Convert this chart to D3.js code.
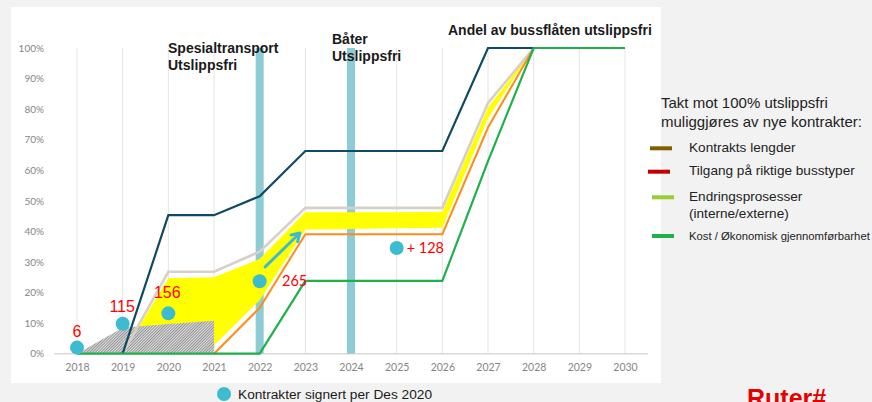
<!DOCTYPE html>
<html>
<head>
<meta charset="utf-8">
<script src="https://cdn.jsdelivr.net/npm/d3@7"></script>
<style>
  body { margin: 0; background: #f2f2f2; }
  svg { display: block; }
</style>
</head>
<body>
<div class="mainContainer"></div>
<script>
// data (percent of bus fleet)
const years = [2018, 2019, 2020, 2021, 2022, 2023, 2024, 2025, 2026, 2027, 2028, 2029, 2030];
const yTicks = [0, 10, 20, 30, 40, 50, 60, 70, 80, 90, 100];

const navy         = [null, 0, 45.3, 45.3, 51.5, 66.3, 66.3, 66.3, 66.3, 100, 100, null, null];
const grey         = [null, 0, 26.8, 26.8, 33.4, 47.7, 47.7, 47.7, 47.7, 82, 100, null, null];
const yellowTop    = [null, 0, 24.7, 25, 31, 46.3, 46.3, 46.3, 46.4, 80.5, 100, null, null];
const yellowBottom = [null, 0, 0, 2.8, 17.5, 40.6, 40.8, 41, 41.2, 77, 100, null, null];
const orange       = [null, null, null, 0, 15, 39.1, 39.1, 39.1, 39.1, 74, 100, null, null];
const green        = [0, 0, 0, 0, 0, 23.8, 23.8, 23.8, 23.8, 63, 100, 100, 100];
const hatched      = [0, 8.5, 9.7, 10.8, null, null, null, null, null, null, null, null, null];

const milestoneYears = [2022, 2024];
const milestoneLabels = [['Spesialtransport', 'Utslippsfri'], ['Båter', 'Utslippsfri']];

const contractYears  = [2018, 2019, 2020, 2022, 2025];
const contractShare  = [2, 9.8, 13.2, 23.7, 34.6];
const contractLabels = ['6', '115', '156', '265', '+ 128'];

const arrowFrom = [2022.12, 28.4];
const arrowTo   = [2022.88, 39.5];

const legendTitle = ['Takt mot 100% utslippsfri', 'muliggjøres av nye kontrakter:'];
const legendItems = [['Kontrakts lengder'], ['Tilgang på riktige busstyper'],
                     ['Endringsprosesser', '(interne/externe)'], ['Kost / Økonomisk gjennomførbarhet']];
const legendColors = ['#7f6000', '#c00000', '#99cc33', '#1fb04c'];

const svg = d3.select('.mainContainer')
    .append('svg')
    .attr('width', 872)
    .attr('height', 402);

const defs = svg.append('defs');
const pat = defs.append('pattern')
    .attr('id', 'hatch')
    .attr('width', 2).attr('height', 2)
    .attr('patternUnits', 'userSpaceOnUse')
    .attr('patternTransform', 'rotate(45)');
pat.append('rect').attr('width', 2).attr('height', 2).attr('fill', '#e2e2e2');
pat.append('line').attr('x1', 0.5).attr('y1', 0).attr('x2', 0.5).attr('y2', 2)
    .attr('stroke', '#909090').attr('stroke-width', 1);

// white chart panel
svg.append('rect')
    .attr('x', 11).attr('y', 7)
    .attr('width', 650).attr('height', 376)
    .attr('fill', '#fff');

const x = d3.scaleLinear().domain([2018, 2030]).range([77, 625]);
const y = d3.scaleLinear().domain([0, 100]).range([353.7, 48]);

const graph = svg.append('g');

// vertical gridlines
graph.selectAll('line.grid')
    .data(years)
    .enter().append('line')
    .attr('class', 'grid')
    .attr('x1', d => x(d)).attr('x2', d => x(d))
    .attr('y1', y(0)).attr('y2', y(100))
    .attr('stroke', '#e4e4e4').attr('stroke-width', 1);

// axes
const xAxisGroup = graph.append('g').attr('transform', `translate(0,${y(0)})`);
xAxisGroup.call(d3.axisBottom(x).tickValues(years).tickFormat(d3.format('d')).tickSize(0).tickPadding(10));
xAxisGroup.select('.domain').remove();
xAxisGroup.selectAll('text')
    .attr('fill', '#858585')
    .style('font-family', 'Lato')
    .style('font-size', '10.5px');

graph.append('line')
    .attr('x1', x(2017.5)).attr('x2', x(2030.5))
    .attr('y1', y(0)).attr('y2', y(0))
    .attr('stroke', '#d9d9d9').attr('stroke-width', 1.5);

const yAxisGroup = graph.append('g').attr('transform', 'translate(47,0)');
yAxisGroup.call(d3.axisLeft(y).tickValues(yTicks).tickFormat(d => d + '%').tickSize(0).tickPadding(3));
yAxisGroup.select('.domain').remove();
yAxisGroup.selectAll('text')
    .attr('fill', '#858585')
    .style('font-family', 'Lato')
    .style('font-size', '10px');

// milestone bars
graph.selectAll('rect.milestone')
    .data(milestoneYears)
    .enter().append('rect')
    .attr('class', 'milestone')
    .attr('x', d => x(d) - 4).attr('width', 8)
    .attr('y', y(100)).attr('height', y(0) - y(100))
    .attr('fill', '#8dcbd5');

const pts = arr => years.map((yr, i) => ({ yr, v: arr[i] }));

// yellow band
const band = years.map((yr, i) => ({ yr, lo: yellowBottom[i], hi: yellowTop[i] }));
graph.append('path')
    .datum(band)
    .attr('fill', '#ffff00')
    .attr('d', d3.area().defined(d => d.hi != null)
        .x(d => x(d.yr)).y0(d => y(d.lo)).y1(d => y(d.hi)));

// hatched area (contracts already signed)
graph.append('path')
    .datum(pts(hatched))
    .attr('fill', 'url(#hatch)')
    .attr('d', d3.area().defined(d => d.v != null)
        .x(d => x(d.yr)).y0(y(0)).y1(d => y(d.v)));

const line = d3.line().defined(d => d.v != null).x(d => x(d.yr)).y(d => y(d.v));
const series = [
    { data: grey, color: '#d7cfc8', w: 2.6 },
    { data: orange, color: '#ff8c1a', w: 2 },
    { data: navy, color: '#0e4a64', w: 2.2 },
    { data: green, color: '#1fb04c', w: 2.2 }
];
graph.selectAll('path.series')
    .data(series)
    .enter().append('path')
    .attr('class', 'series')
    .attr('fill', 'none')
    .attr('stroke', d => d.color)
    .attr('stroke-width', d => d.w)
    .attr('stroke-linejoin', 'miter')
    .attr('d', d => line(pts(d.data)));

// arrow
const ax1 = x(arrowFrom[0]), ay1 = y(arrowFrom[1]), ax2 = x(arrowTo[0]), ay2 = y(arrowTo[1]);
const ang = Math.atan2(ay2 - ay1, ax2 - ax1);
graph.append('path')
    .attr('fill', 'none')
    .attr('stroke', '#3dbccf')
    .attr('stroke-width', 3)
    .attr('stroke-linecap', 'round')
    .attr('stroke-linejoin', 'round')
    .attr('d', `M${ax1},${ay1}L${ax2},${ay2}` +
        `M${ax2 - 9 * Math.cos(ang - 0.55)},${ay2 - 9 * Math.sin(ang - 0.55)}L${ax2},${ay2}` +
        `L${ax2 - 9 * Math.cos(ang + 0.55)},${ay2 - 9 * Math.sin(ang + 0.55)}`);

// contract dots
graph.selectAll('circle.contract')
    .data(contractYears)
    .enter().append('circle')
    .attr('class', 'contract')
    .attr('cx', d => x(d))
    .attr('cy', (d, i) => y(contractShare[i]))
    .attr('r', 7)
    .attr('fill', '#3dbccf');

// dot labels: offsets from each dot
const labelOffsets = [[0, -16.5], [-0.5, -17.5], [-1, -21], [35, 0], [10, 0]];
const labelAnchors = ['middle', 'middle', 'middle', 'middle', 'start'];
const labelFonts = ['Liberation Sans', 'Liberation Sans', 'Liberation Sans', 'Lato', 'Lato'];
const labelSizes = ['16px', '16px', '16px', '14.5px', '14.5px'];
graph.selectAll('text.contract')
    .data(contractLabels)
    .enter().append('text')
    .attr('class', 'contract')
    .attr('x', (d, i) => x(contractYears[i]) + labelOffsets[i][0])
    .attr('y', (d, i) => y(contractShare[i]) + labelOffsets[i][1])
    .attr('dy', '0.36em')
    .attr('text-anchor', (d, i) => labelAnchors[i])
    .attr('fill', '#ff0000')
    .style('font-family', (d, i) => labelFonts[i])
    .style('font-size', (d, i) => labelSizes[i])
    .text(d => d);

// milestone annotations
const annoPos = [[168, 52.5], [332, 44]];
milestoneLabels.forEach((lines, i) => {
    const t = graph.append('text')
        .attr('x', annoPos[i][0]).attr('y', annoPos[i][1])
        .style('font-family', 'Liberation Sans, Arial, sans-serif')
        .style('font-weight', 'bold')
        .style('font-size', '14px')
        .attr('fill', '#1a1a1a');
    lines.forEach((l, j) => t.append('tspan').attr('x', annoPos[i][0]).attr('dy', j ? 17 : 0).text(l));
});

graph.append('text')
    .attr('x', 448).attr('y', 35)
    .style('font-family', 'Liberation Sans, Arial, sans-serif')
    .style('font-weight', 'bold')
    .style('font-size', '14px')
    .attr('fill', '#1a1a1a')
    .text('Andel av bussflåten utslippsfri');

// right legend
const legend = svg.append('g').style('font-family', 'Liberation Sans, Arial, sans-serif').attr('fill', '#222');
legend.selectAll('text.title')
    .data(legendTitle)
    .enter().append('text')
    .attr('class', 'title')
    .attr('x', 661)
    .attr('y', (d, i) => 108.3 + i * 18.4)
    .style('font-size', '15px')
    .text(d => d);

const legendY = [148.3, 171.7, 197.3, 236];
const swatchX = [650, 648, 652, 652];
const legendFont = ['13.6px', '13.6px', '13.6px', '11.3px'];
legendItems.forEach((lines, i) => {
    legend.append('line')
        .attr('x1', swatchX[i]).attr('x2', swatchX[i] + 22)
        .attr('y1', legendY[i]).attr('y2', legendY[i])
        .attr('stroke', legendColors[i]).attr('stroke-width', 4);
    const t = legend.append('text')
        .attr('x', 689).attr('y', legendY[i] + 3.6)
        .style('font-size', legendFont[i]);
    lines.forEach((l, j) => t.append('tspan').attr('x', 689).attr('dy', j ? 17 : 0).text(l));
});

// bottom legend
svg.append('circle').attr('cx', 224).attr('cy', 394).attr('r', 7).attr('fill', '#3dbccf');
svg.append('text')
    .attr('x', 238).attr('y', 398.5)
    .style('font-family', 'Liberation Sans, Arial, sans-serif')
    .style('font-size', '13.7px')
    .attr('fill', '#1a1a1a')
    .text('Kontrakter signert per Des 2020');

// logo (cut by the bottom edge, as in the source slide)
svg.append('text')
    .attr('x', 747).attr('y', 407)
    .style('font-family', 'Liberation Sans, Arial, sans-serif')
    .style('font-weight', 'bold')
    .style('font-size', '25px')
    .attr('fill', '#e60000')
    .text('Ruter#');
</script>
</body>
</html>
